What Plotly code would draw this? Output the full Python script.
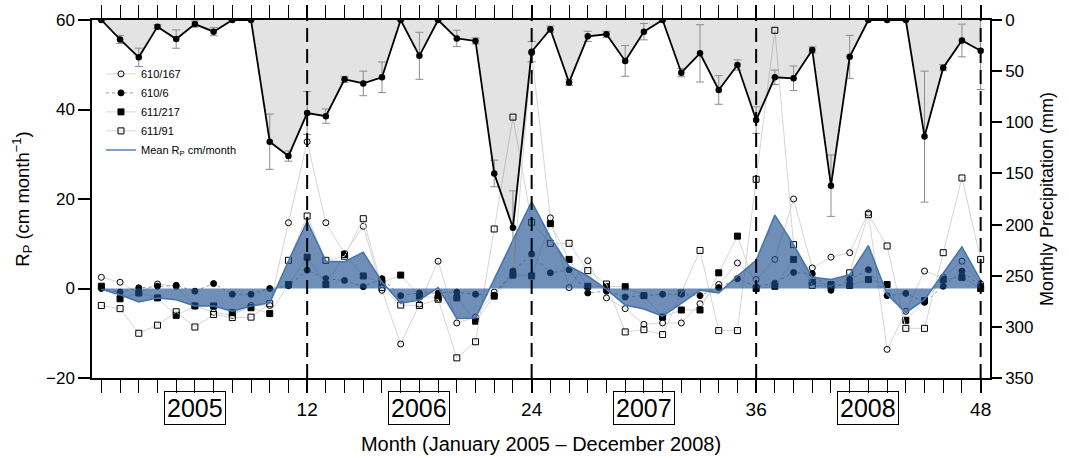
import plotly.graph_objects as go

# Month index, January 2005 = 1 ... December 2008 = 48
months = list(range(1, 49))

# Monthly precipitation (mm) and its spread across gauges
precip_mm = [0, 19, 36.5, 6.5, 18.6, 4, 11.4, 0, 0, 119, 133, 91,
             94, 58, 62, 56, 0, 35, 0, 18, 20.5, 150, 203, 31,
             9, 61, 16, 14, 40, 11.4, 0, 51.5, 32.6, 68.4, 44, 97.8,
             56, 57, 29.3, 162, 36, 0, 0, 0, 114, 46.6, 20, 30]
precip_err = [0, 4, 9, 2, 9, 3, 4, 0, 0, 27, 5, 21,
              7, 3, 12, 15, 0, 23, 0, 8, 3, 13, 36, 10,
              3, 3, 5, 3, 15, 8, 0, 4, 28, 14, 5, 13,
              7, 12, 3, 30, 21, 0, 0, 0, 64, 3, 16, 38]

# Monthly recharge Rp (cm/month) at each well
rp_610_167 = [2.5, 1.4, -1.0, 1.0, 0.5, -3.9, -5.3, -6.0, -3.8, -3.8, 14.7, 32.8,
              14.7, 7.8, 13.9, -0.4, -12.4, -3.5, 6.1, -7.7, -6.4, -0.8, 3.0, 52.7,
              15.8, 0.2, 6.2, -2.1, -4.5, -8.0, -7.7, -7.7, -3.4, 0.9, 5.7, 2.0,
              6.5, 20.0, 4.6, 7.0, 8.0, 16.9, -13.6, -5.1, 3.9, 2.5, 6.1, 1.0]
rp_610_6 = [0.0, -0.8, 0.15, 0.5, 0.7, -0.6, 1.1, -1.3, -1.3, 0.0, 0.6, 4.1,
            2.2, 1.8, 0.4, 2.2, -1.6, -1.0, -1.0, -0.8, -1.3, -1.5, 3.9, 7.7,
            3.5, 4.2, -1.0, -0.6, -1.9, -1.6, -1.3, -1.3, -1.6, 0.2, 2.2, 0.4,
            1.2, 3.6, 3.3, -0.4, 2.0, 4.2, -1.6, -1.1, -3.1, 0.5, 3.9, 0.5]
rp_611_217 = [0.5, -2.3, -1.0, -2.1, -6.0, -3.9, -3.9, -5.4, -4.3, -5.6, 0.9, 7.0,
              0.9, 7.6, 2.8, 1.3, 3.0, -1.7, -2.1, -2.1, -7.3, -1.7, 3.0, 2.8,
              14.5, 6.5, 0.5, 0.4, 0.4, -1.6, -6.4, -4.8, -4.8, 3.5, 11.7, 0.0,
              0.5, 6.5, 1.4, 0.9, 0.7, 2.0, 0.9, -7.1, -2.7, 2.0, 2.5, 0.0]
rp_611_91 = [-3.8, -4.5, -10.0, -8.2, -5.2, -8.6, -5.8, -6.5, -6.4, -3.4, 6.3, 16.2,
             6.3, 7.2, 15.6, 0.2, -3.7, -3.8, -2.4, -15.5, -11.9, 13.3, 38.3, 14.8,
             10.1, 10.1, 4.0, 1.0, -9.7, -9.2, -10.3, -1.0, 8.5, -9.4, -9.4, 24.4,
             57.7, 9.8, 0.7, 0.5, 3.5, 16.5, 9.5, -8.9, -8.9, 8.0, 24.7, 6.5]
rp_mean = [-0.2, -1.4, -3.0, -2.1, -2.5, -3.9, -3.9, -5.1, -3.9, -3.2, 6.1, 15.0,
           6.1, 6.0, 8.1, 1.5, -3.3, -2.6, 0.2, -6.7, -6.6, 2.2, 10.8, 19.4,
           11.5, 5.0, 2.8, -0.2, -3.7, -4.6, -6.2, -3.3, -0.4, -1.0, 2.8, 6.3,
           16.4, 9.8, 2.5, 2.0, 3.1, 9.6, -1.3, -5.4, -2.5, 3.4, 9.3, 1.8]

year_breaks = [12, 24, 36, 48]
year_labels = ["2005", "2006", "2007", "2008"]
year_centres = [6, 18, 30, 42]

FONT = "Liberation Sans, Arial, sans-serif"
GREY_LINE = "#d6d6d6"

fig = go.Figure()

wells = [
    ("610/167", rp_610_167, "circle-open", "solid", GREY_LINE),
    ("610/6", rp_610_6, "circle", "dot", "#9a9a9a"),
    ("611/217", rp_611_217, "square", "solid", GREY_LINE),
    ("611/91", rp_611_91, "square-open", "solid", GREY_LINE),
]
for name, vals, sym, dash, lcol in wells:
    fig.add_trace(go.Scatter(
        x=months, y=vals, name=name, mode="lines+markers",
        line=dict(color=lcol, width=1, dash=dash),
        marker=dict(symbol=sym, size=6, color="black",
                    line=dict(color="black", width=1)),
        yaxis="y",
    ))

# Mean recharge as a translucent blue area to zero
fig.add_trace(go.Scatter(
    x=months, y=rp_mean, mode="lines", fill="tozeroy",
    fillcolor="rgba(30,80,145,0.64)",
    line=dict(color="#4474aa", width=1.5),
    showlegend=False, yaxis="y",
))
fig.add_trace(go.Scatter(
    x=[None], y=[None], mode="lines", name="Mean R<sub>P</sub> cm/month",
    line=dict(color="#7f9fc6", width=2), yaxis="y",
))

# Precipitation hanging from the top (reversed right axis)
fig.add_trace(go.Scatter(
    x=months, y=precip_mm, mode="lines+markers", fill="tozeroy",
    fillcolor="rgba(0,0,0,0.11)",
    line=dict(color="black", width=1.8),
    marker=dict(symbol="circle", size=6.5, color="black"),
    error_y=dict(type="data", array=precip_err, color="#8c8c8c",
                 thickness=1, width=4),
    showlegend=False, yaxis="y2",
))

shapes = [dict(type="line", xref="x", yref="paper", x0=m, x1=m, y0=0, y1=1,
               line=dict(color="black", width=2, dash="14px,7px"))
          for m in year_breaks]

annotations = [dict(x=c, y=-0.085, xref="x", yref="paper", text=t,
                    showarrow=False, font=dict(family=FONT, size=25, color="black"),
                    bordercolor="black", borderwidth=1, borderpad=2,
                    xanchor="center", yanchor="middle")
               for c, t in zip(year_centres, year_labels)]

fig.update_layout(
    width=1069, height=458,
    margin=dict(l=92, r=79, t=20, b=80),
    paper_bgcolor="white", plot_bgcolor="white",
    font=dict(family=FONT, color="black"),
    shapes=shapes, annotations=annotations,
    legend=dict(x=0.01, y=0.89, xanchor="left", yanchor="top",
                bgcolor="rgba(0,0,0,0)", font=dict(size=11, family=FONT),
                tracegroupgap=0, itemwidth=30),
    xaxis=dict(range=[0.5, 48.5], tickvals=year_breaks, automargin=False,
               ticks="outside", ticklen=13, tickwidth=1.5, tickcolor="black",
               minor=dict(dtick=1, tick0=0, ticks="outside", ticklen=6,
                          tickwidth=1.2, tickcolor="black"),
               showline=True, linecolor="black", linewidth=1.5,
               mirror="allticks", showgrid=False, zeroline=False,
               tickfont=dict(size=19),
               title=dict(text="Month (January 2005 – December 2008)",
                          font=dict(size=20), standoff=18)),
    yaxis=dict(range=[-20, 60], tickvals=[-20, 0, 20, 40, 60], automargin=False,
               ticks="outside", ticklen=12, tickwidth=1.5, tickcolor="black",
               showline=True, linecolor="black", linewidth=1.5,
               showgrid=False, zeroline=False, tickfont=dict(size=17),
               title=dict(text="R<sub>P</sub> (cm month<sup>−1</sup>)",
                          font=dict(size=18.5), standoff=12)),
    yaxis2=dict(range=[350, 0], overlaying="y", side="right", automargin=False,
                tickvals=[0, 50, 100, 150, 200, 250, 300, 350],
                ticks="outside", ticklen=10, tickwidth=1.5, tickcolor="black",
                showline=True, linecolor="black", linewidth=1.5,
                showgrid=False, zeroline=False, tickfont=dict(size=17),
                title=dict(text="Monthly Precipitation (mm)",
                           font=dict(size=18), standoff=8)),
)

fig.write_html("out.html")
